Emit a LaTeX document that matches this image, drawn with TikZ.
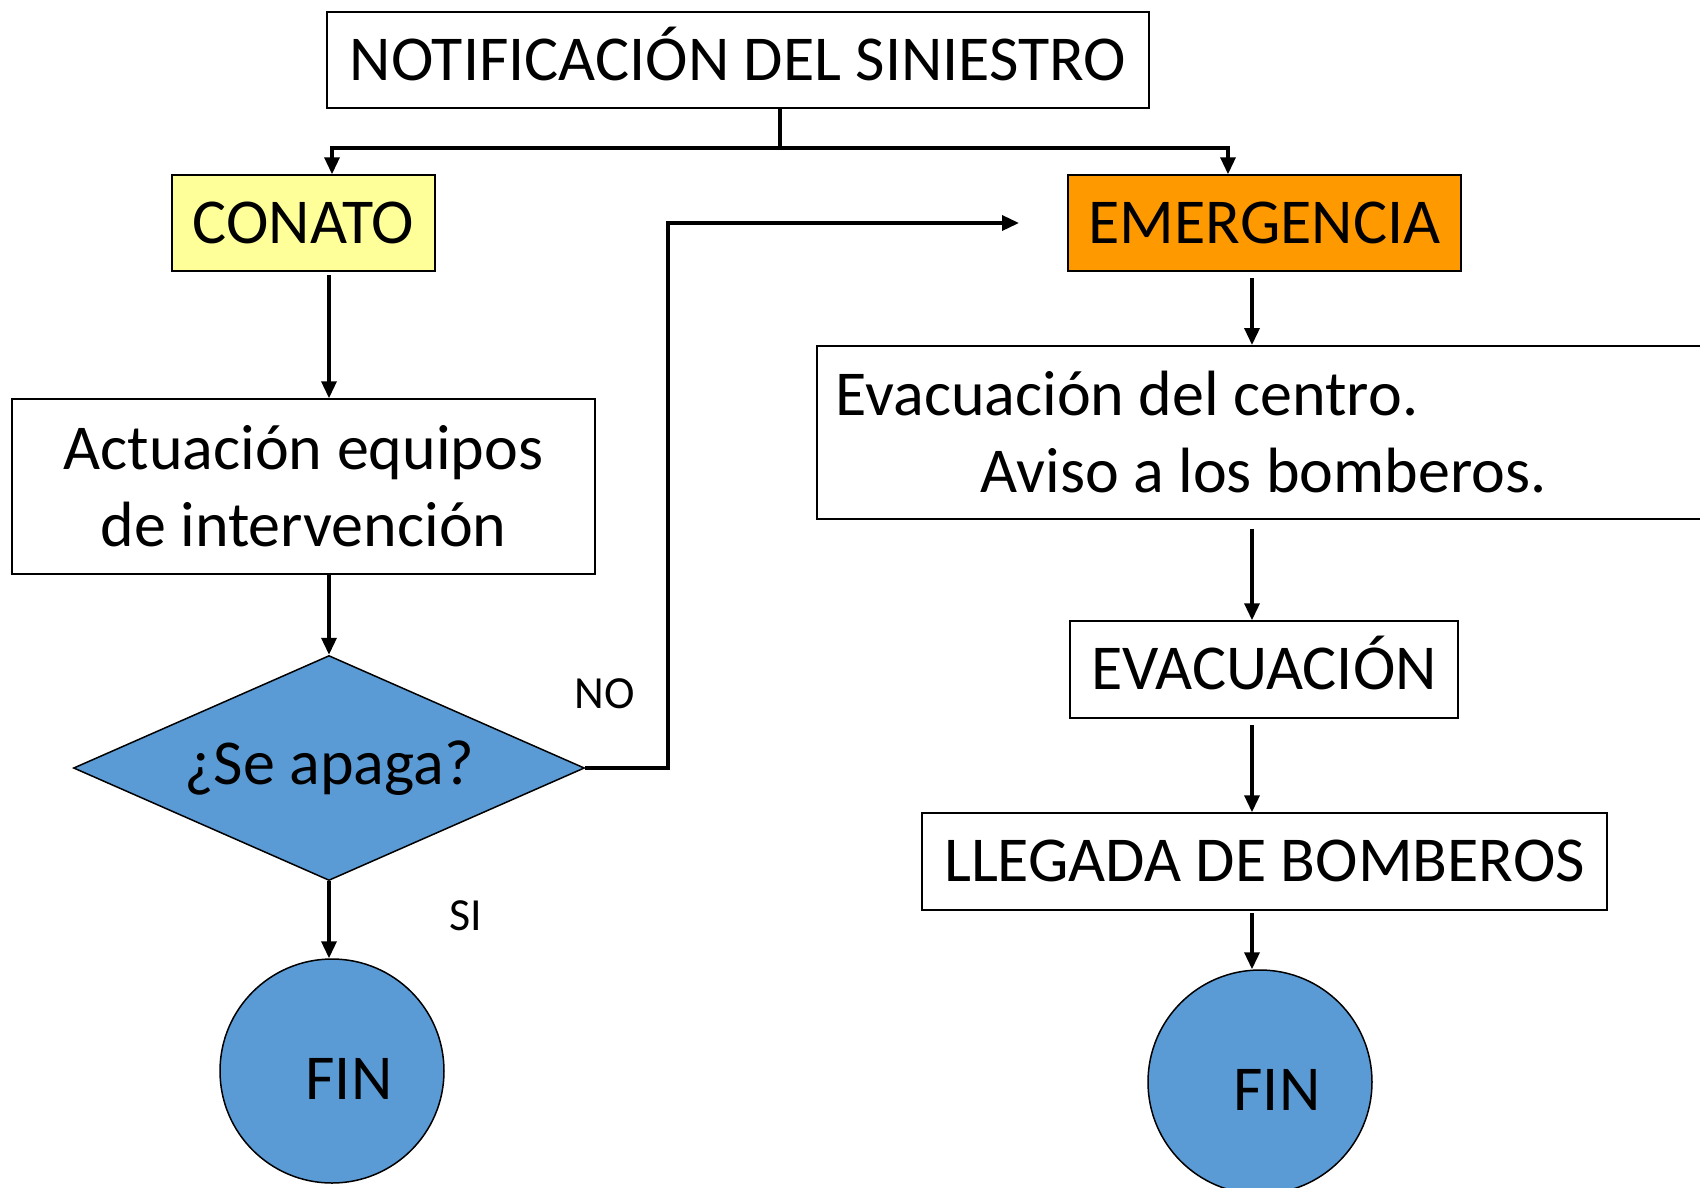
\documentclass[tikz,border=0pt]{standalone}
\usepackage{fontspec}
\setmainfont{Carlito}
\usetikzlibrary{shapes.geometric,arrows.meta}
\definecolor{conatoyellow}{RGB}{255,255,153}
\definecolor{emergorange}{RGB}{255,153,0}
\definecolor{finblue}{RGB}{91,155,213}

\begin{document}
\begin{tikzpicture}[x=1pt,y=-1pt]
\tikzstyle{box} = [draw, line width=1.5pt, inner sep=0pt,
            font=\fontsize{64}{77}\selectfont];
\tikzstyle{oneline} = [text height=40pt, text depth=0pt];
\tikzstyle{fin} = [circle, draw, line width=1.5pt, fill=finblue,
            minimum size=224pt, inner sep=0pt, font=\fontsize{64}{77}\selectfont];
\tikzstyle{lab} = [font=\fontsize{46}{55}\selectfont];
\tikzstyle{arr} = [line width=3.5pt, -{Triangle[length=17pt,width=15pt]}];

    \useasboundingbox (0,0) rectangle (1700,1187);

    \node (notif) at (738,60) [box, oneline, minimum width=822pt, minimum height=96pt] {NOTIFICACIÓN DEL SINIESTRO};
    \node (conato) at (303.5,223) [box, oneline, fill=conatoyellow, minimum width=263pt, minimum height=96pt] {CONATO};
    \node (emerg) at (1264.5,223) [box, oneline, fill=emergorange, minimum width=393pt, minimum height=96pt] {EMERGENCIA};

    \node (actua) at (303.5,486.5) [box, align=center, minimum width=583pt, minimum height=175pt] {Actuación equipos\\de intervención};
    \node (apaga) at (329,768) [box, diamond, aspect=2.27, fill=finblue, minimum width=511pt, minimum height=225pt] {¿Se apaga?};
    \node (fin1) at (332,1071) [fin] {\hspace*{34pt}\raisebox{-28pt}[0pt][0pt]{FIN}};
    \node (no) at (605,694) [lab] {NO};
    \node (si) at (466,916) [lab] {SI};

    \node (evac) at (816,345) [box, anchor=north west, minimum width=904pt, minimum height=173pt,
        inner xsep=19pt, text width=866pt, align=flush left] {Evacuación del centro.\\\hspace*{145pt}Aviso a los bomberos.};
    \node (evacua) at (1264,669.5) [box, oneline, minimum width=388pt, minimum height=97pt] {EVACUACIÓN};
    \node (llegada) at (1264.5,861.5) [box, oneline, minimum width=685pt, minimum height=97pt] {LLEGADA DE BOMBEROS};
    \node (fin2) at (1260,1082) [fin] {\hspace*{34pt}\raisebox{-28pt}[0pt][0pt]{FIN}};

    \coordinate (split) at (780,148);
    \coordinate (tl) at (332,148);
    \coordinate (tr) at (1228,148);
    \coordinate (noturn) at (668,223);
    \coordinate (noend) at (1019,223);
    \coordinate (col) at (1252,0);

    \draw[line width=3.5pt] (notif.south -| split) -- (split);
    \draw[arr] (split) -- (tl) -- (tl |- conato.north);
    \draw[arr] (split) -- (tr) -- (tr |- emerg.north);

    \draw[arr, shorten <=3pt] (conato.south -| apaga.north) -- (actua.north -| apaga.north);
    \draw[arr] (actua.south -| apaga.north) -- (apaga.north);
    \draw[arr] (apaga.south) -- (apaga.south |- fin1.north);
    \draw[arr] (apaga.east) -| (noturn) -- (noend);

    \draw[arr, shorten <=6pt] (emerg.south -| col) -- (evac.north -| col);
    \draw[arr, shorten <=9pt] (evac.south -| col) -- (evacua.north -| col);
    \draw[arr, shorten <=6pt] (evacua.south -| col) -- (llegada.north -| col);
    \draw[arr, shorten <=2pt] (llegada.south -| col) -- (fin2.north -| col);

\end{tikzpicture}
\end{document}
